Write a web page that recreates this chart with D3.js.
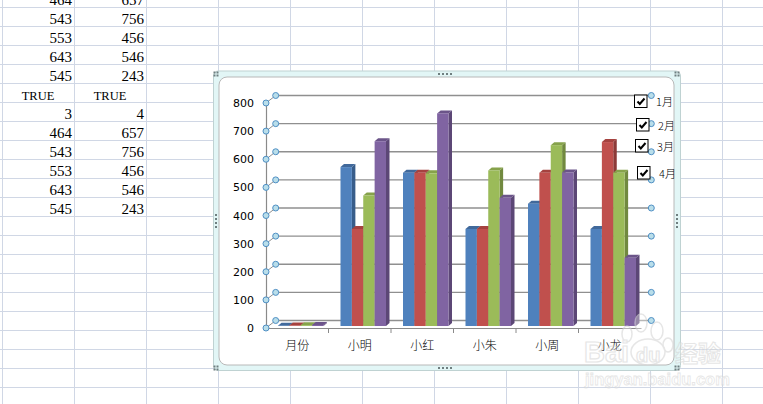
<!DOCTYPE html>
<html>
<head>
<meta charset="utf-8">
<script src="https://d3js.org/d3.v7.min.js"></script>
<style>
html, body { margin: 0; padding: 0; background: #fff; overflow: hidden; }
svg { display: block; }
</style>
</head>
<body>
<div id="chart"></div>
<script>
// chart values
const categories = ["月份", "小明", "小红", "小朱", "小周", "小龙"];
const seriesNames = ["1月", "2月", "3月", "4月"];
const janValues = [1, 565, 545, 345, 435, 345];
const febValues = [2, 345, 545, 345, 545, 654];
const marValues = [3, 464, 543, 553, 643, 545];
const aprValues = [4, 657, 756, 456, 546, 243];
const tickValues = [0, 100, 200, 300, 400, 500, 600, 700, 800];

// spreadsheet cells behind the chart
const cellsA = ["464", "543", "553", "643", "545", "TRUE", "3", "464", "543", "553", "643", "545"];
const cellsB = ["657", "756", "456", "546", "243", "TRUE", "4", "657", "756", "456", "546", "243"];

const allSeries = [janValues, febValues, marValues, aprValues];
const barColors = ["#4f81bd", "#c0504d", "#9bbb59", "#8064a2"];
const sideColors = ["#385d8a", "#8c3a38", "#71893f", "#5c4776"];
const topColors = ["#41699b", "#a5423f", "#86a24b", "#6b5489"];

const width = 763, height = 404;
const svg = d3.select("#chart").append("svg")
    .attr("width", width)
    .attr("height", height);

// sheet grid
const gridColor = "#d0d7e5";
svg.append("g").selectAll("line")
    .data(d3.range(0, 22))
    .enter().append("line")
    .attr("x1", 0).attr("x2", width)
    .attr("y1", d => 7.5 + d * 19).attr("y2", d => 7.5 + d * 19)
    .attr("stroke", gridColor);
svg.append("g").selectAll("line")
    .data(d3.range(0, 11))
    .enter().append("line")
    .attr("y1", 0).attr("y2", height)
    .attr("x1", d => 2.5 + d * 72).attr("x2", d => 2.5 + d * 72)
    .attr("stroke", gridColor);

// sheet text
function drawCells(cells, rightX, midX) {
    svg.append("g").selectAll("text")
        .data(cells)
        .enter().append("text")
        .attr("x", d => d == "TRUE" ? midX : rightX)
        .attr("y", (d, i) => i * 19 + 4.5)
        .attr("text-anchor", d => d == "TRUE" ? "middle" : "end")
        .style("font-family", "'Liberation Serif', serif")
        .style("font-size", d => d == "TRUE" ? "12.5px" : "15px")
        .style("fill", "#000")
        .text(d => d);
}
drawCells(cellsA, 72, 38);
drawCells(cellsB, 144, 110);

// chart frame
svg.append("rect")
    .attr("x", 213.5).attr("y", 71)
    .attr("width", 467).attr("height", 299.5)
    .attr("rx", 5)
    .attr("fill", "#e2f6f6")
    .attr("stroke", "#bfd2d2");
svg.append("rect")
    .attr("x", 219).attr("y", 77)
    .attr("width", 455).attr("height", 288)
    .attr("rx", 8)
    .attr("fill", "#fff")
    .attr("stroke", "#b8b8b8");

// resize handles
const handleDots = [];
[[216, 74], [677, 74], [216, 368], [677, 368]].forEach(p => {
    [[-1.5, -1.5], [1.5, -1.5], [-1.5, 1.5], [1.5, 1.5]].forEach(o => handleDots.push([p[0] + o[0], p[1] + o[1]]));
});
[439, 443, 447, 451].forEach(x => { handleDots.push([x, 74]); handleDots.push([x, 368]); });
[215, 219, 223, 227].forEach(y => { handleDots.push([216, y]); handleDots.push([677, y]); });
svg.append("g").selectAll("rect")
    .data(handleDots)
    .enter().append("rect")
    .attr("x", d => d[0] - 1).attr("y", d => d[1] - 1)
    .attr("width", 2).attr("height", 2)
    .attr("fill", "#6f7f80");

// scales
const yFront = d3.scaleLinear().domain([0, 800]).range([328, 103]);
const yBack = d3.scaleLinear().domain([0, 800]).range([320.5, 95.5]);
const yBar = d3.scaleLinear().domain([0, 800]).range([326, 101]);
const x0 = d3.scaleBand().domain(categories).range([266, 641]);
const x1 = d3.scaleBand().domain(seriesNames).range([12, 57.5]);
const backLeft = 275.7, frontLeft = 266, plotRight = 651.3;
const depthX = 3.5, depthY = -3;

// gridlines on the back wall
svg.append("g").selectAll("line")
    .data(tickValues)
    .enter().append("line")
    .attr("x1", backLeft).attr("x2", plotRight)
    .attr("y1", d => yBack(d)).attr("y2", d => yBack(d))
    .attr("stroke", "#8f8f8f")
    .attr("stroke-width", 1.4);

// connectors from axis to the wall
svg.append("g").selectAll("line")
    .data(tickValues)
    .enter().append("line")
    .attr("x1", frontLeft).attr("x2", backLeft)
    .attr("y1", d => yFront(d)).attr("y2", d => yBack(d))
    .attr("stroke", "#8f8f8f");

// Add Y axis
const yAxis = svg.append("g")
    .attr("transform", `translate(${frontLeft},0)`)
    .call(d3.axisLeft(yFront).tickValues(tickValues).tickSize(0).tickPadding(12));
yAxis.select(".domain").attr("stroke", "#8a8a8a").attr("stroke-width", 1.2);
yAxis.selectAll("text")
    .style("font-family", "'DejaVu Sans', sans-serif")
    .style("font-size", "11px")
    .style("fill", "#000");

// Add bars
const groups = svg.append("g").selectAll("g")
    .data(categories)
    .enter().append("g")
    .attr("transform", d => `translate(${x0(d)},0)`);

seriesNames.forEach((name, s) => {
    const values = allSeries[s];
    const bw = x1.bandwidth();
    const left = x1(name);
    // side face
    groups.append("path")
        .attr("d", (d, i) => {
            const t = yBar(values[i]), b = yBar(0), r = left + bw;
            return `M${r},${t}L${r + depthX},${t + depthY}L${r + depthX},${b + depthY}L${r},${b}Z`;
        })
        .attr("fill", sideColors[s]);
    // top face
    groups.append("path")
        .attr("d", (d, i) => {
            const t = yBar(values[i]), r = left + bw;
            return `M${left},${t}L${left + depthX},${t + depthY}L${r + depthX},${t + depthY}L${r},${t}Z`;
        })
        .attr("fill", topColors[s]);
    // front face
    groups.append("rect")
        .attr("x", left)
        .attr("y", (d, i) => yBar(values[i]))
        .attr("width", bw)
        .attr("height", (d, i) => yBar(0) - yBar(values[i]))
        .attr("fill", barColors[s]);
});

// Add X axis
const xAxis = svg.append("g")
    .attr("transform", "translate(0,328)")
    .call(d3.axisBottom(x0).tickSize(0).tickPadding(13));
xAxis.select(".domain").attr("stroke", "#8a8a8a").attr("stroke-width", 1.2);
xAxis.selectAll("text")
    .style("font-family", "'Noto Sans CJK SC', sans-serif")
    .style("font-size", "12px")
    .style("font-weight", "300")
    .style("fill", "#000");
svg.append("g").selectAll("line")
    .data(categories.slice(1))
    .enter().append("line")
    .attr("x1", d => x0(d)).attr("x2", d => x0(d))
    .attr("y1", 328).attr("y2", 333)
    .attr("stroke", "#8a8a8a");

// selection circles
const circleFill = "#b9deea", circleStroke = "#4f8fc4";
function drawCircles(cx, scale) {
    svg.append("g").selectAll("circle")
        .data(tickValues)
        .enter().append("circle")
        .attr("cx", cx)
        .attr("cy", d => scale(d))
        .attr("r", 3)
        .attr("fill", circleFill)
        .attr("stroke", circleStroke);
}
drawCircles(frontLeft, yFront);
drawCircles(backLeft, yBack);
drawCircles(plotRight, yBack);

// legend with check boxes
const legendBoxX = [634.5, 636.5, 635.5, 637.5];
const legendBoxY = [95, 118.5, 139.5, 166.5];
const legendTextX = [656, 658, 657, 659];
const legend = svg.append("g").selectAll("g")
    .data(seriesNames)
    .enter().append("g")
    .attr("transform", (d, i) => `translate(${legendBoxX[i]},${legendBoxY[i]})`);
legend.append("rect")
    .attr("width", 12.5).attr("height", 12.5)
    .attr("fill", "#fff")
    .attr("stroke", "#000");
legend.append("path")
    .attr("d", "M3,6.5L5.3,9L10,3.5")
    .attr("fill", "none")
    .attr("stroke", "#000")
    .attr("stroke-width", 2);
legend.append("text")
    .attr("x", (d, i) => legendTextX[i] - legendBoxX[i])
    .attr("y", 11)
    .style("font-family", "'Noto Sans CJK SC', sans-serif")
    .style("font-size", "11px")
    .style("font-weight", "300")
    .style("fill", "#000")
    .text(d => d);

// watermark
const mark = svg.append("g").attr("opacity", 0.6);
const pawDots = [[627, 334, 5, 8], [641, 323, 6, 9], [657, 331, 6, 9], [668, 345, 5, 7], [648, 352, 17, 13]];
mark.selectAll("ellipse")
    .data(pawDots)
    .enter().append("ellipse")
    .attr("cx", d => d[0]).attr("cy", d => d[1])
    .attr("rx", d => d[2]).attr("ry", d => d[3])
    .attr("fill", "#fff").attr("fill-opacity", 0.6)
    .attr("stroke", "#d6d6d6").attr("stroke-width", 1.5);
mark.append("text")
    .attr("x", 584).attr("y", 362)
    .style("font-family", "'Liberation Sans', sans-serif")
    .style("font-size", "29px").style("font-weight", "bold")
    .style("fill", "#fff").style("fill-opacity", 0.5)
    .style("stroke", "#d6d6d6").style("stroke-width", 1.2)
    .text("Bai");
mark.append("text")
    .attr("x", 636).attr("y", 362)
    .style("font-family", "'Liberation Sans', sans-serif")
    .style("font-size", "20px").style("font-weight", "bold")
    .style("fill", "#fff").style("fill-opacity", 0.5)
    .style("stroke", "#d6d6d6").style("stroke-width", 1.2)
    .text("du");
mark.append("text")
    .attr("x", 675).attr("y", 362)
    .style("font-family", "'Noto Sans CJK SC', sans-serif")
    .style("font-size", "23px").style("font-weight", "bold")
    .style("fill", "#fff").style("fill-opacity", 0.5)
    .style("stroke", "#d6d6d6").style("stroke-width", 1)
    .text("经验");
mark.append("text")
    .attr("x", 585).attr("y", 385)
    .style("font-family", "'Liberation Sans', sans-serif")
    .style("font-size", "16.5px").style("font-weight", "bold")
    .style("fill", "#fff").style("fill-opacity", 0.5)
    .style("stroke", "#d6d6d6").style("stroke-width", 0.8)
    .text("jingyan.baidu.com");
</script>
</body>
</html>
